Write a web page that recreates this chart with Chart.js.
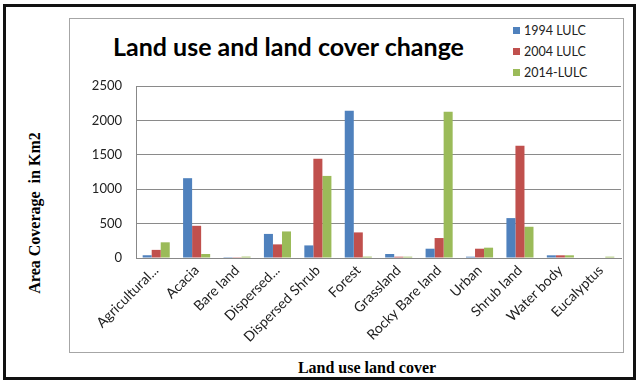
<!DOCTYPE html>
<html>
<head>
<meta charset="utf-8">
<script src="https://cdn.jsdelivr.net/npm/chart.js@4.4.1/dist/chart.umd.min.js"></script>
<style>
  html, body { margin: 0; padding: 0; background: #fff; }
  #wrap { position: relative; width: 642px; height: 387px; overflow: hidden; background: #fff; }
  #outer { position: absolute; left: 3px; top: 4px; width: 627px; height: 370px; border: 3px solid #111; }
  #inner { position: absolute; left: 69px; top: 18px; width: 553px; height: 333px; border: 1px solid #a6a6a6; }
  #title { position: absolute; left: 0; width: 577px; top: 31px; text-align: center; font: bold 25px Lato, sans-serif; color: #000; white-space: nowrap; }
  .leg { position: absolute; left: 513px; font: 12.5px Lato, sans-serif; color: #222; white-space: nowrap; }
  .leg span { display: inline-block; width: 7px; height: 7px; margin-right: 4px; vertical-align: 1px; }
  #ytitle { position: absolute; left: 35px; top: 213px; transform: translate(-50%, -50%) rotate(-90deg); font: bold 16px "Liberation Serif", serif; color: #000; white-space: pre; }
  #xtitle { position: absolute; left: 367px; top: 368px; transform: translate(-50%, -50%); font: bold 16px "Liberation Serif", serif; color: #000; white-space: nowrap; }
  canvas { position: absolute; left: 0; top: 0; }
</style>
</head>
<body>
<div id="wrap">
  <div id="outer"></div>
  <div id="inner"></div>
  <div id="title">Land use and land cover change</div>
  <div class="leg" style="top:23px"><span style="background:#4F81BD"></span>1994 LULC</div>
  <div class="leg" style="top:44px"><span style="background:#C0504D"></span>2004 LULC</div>
  <div class="leg" style="top:65px"><span style="background:#9BBB59"></span>2014-LULC</div>
  <div id="ytitle">Area Coverage  in Km2</div>
  <div id="xtitle">Land use land cover</div>
  <canvas id="c" width="642" height="387"></canvas>
</div>
<script>
const categories = ["Agricultural...", "Acacia", "Bare land", "Dispersed...", "Dispersed Shrub", "Forest", "Grassland", "Rocky Bare land", "Urban", "Shrub land", "Water body", "Eucalyptus"];
const lulc1994 = [40, 1160, 2, 350, 183, 2140, 58, 135, 19, 580, 39, 0];
const lulc2004 = [118, 468, 3, 198, 1444, 372, 19, 290, 135, 1632, 39, 0];
const lulc2014 = [228, 58, 20, 386, 1193, 20, 19, 2125, 150, 454, 39, 19];
const yTicks = [0, 500, 1000, 1500, 2000, 2500];

const ctx = document.getElementById('c').getContext('2d');
new Chart(ctx, {
  type: 'bar',
  data: {
    labels: categories,
    datasets: [
      { label: '1994 LULC', data: lulc1994, backgroundColor: '#4F81BD' },
      { label: '2004 LULC', data: lulc2004, backgroundColor: '#C0504D' },
      { label: '2014-LULC', data: lulc2014, backgroundColor: '#9BBB59' }
    ]
  },
  options: {
    responsive: false,
    animation: false,
    devicePixelRatio: 1,
    categoryPercentage: 0.67,
    barPercentage: 1.0,
    layout: { padding: { left: 86, top: 86, right: 21, bottom: 29 } },
    plugins: { legend: { display: false }, tooltip: { enabled: false }, title: { display: false } },
    scales: {
      x: {
        afterFit: s => { s.height = 100; },
        grid: { display: false, drawTicks: false },
        border: { display: true, color: '#888', width: 1 },
        ticks: { autoSkip: false, maxRotation: 45, minRotation: 45, padding: 4, color: '#222', font: { family: 'Lato', size: 14 } }
      },
      y: {
        min: 0, max: 2500,
        afterFit: s => { s.width = 50; },
        afterBuildTicks: s => { s.ticks = yTicks.map(v => ({ value: v })); },
        grid: { color: '#8a8a8a', lineWidth: 1, drawTicks: false },
        border: { display: true, color: '#888', width: 1 },
        ticks: { padding: 14, color: '#222', font: { family: 'Lato', size: 13 }, callback: v => String(v) }
      }
    }
  }
});
</script>
</body>
</html>
